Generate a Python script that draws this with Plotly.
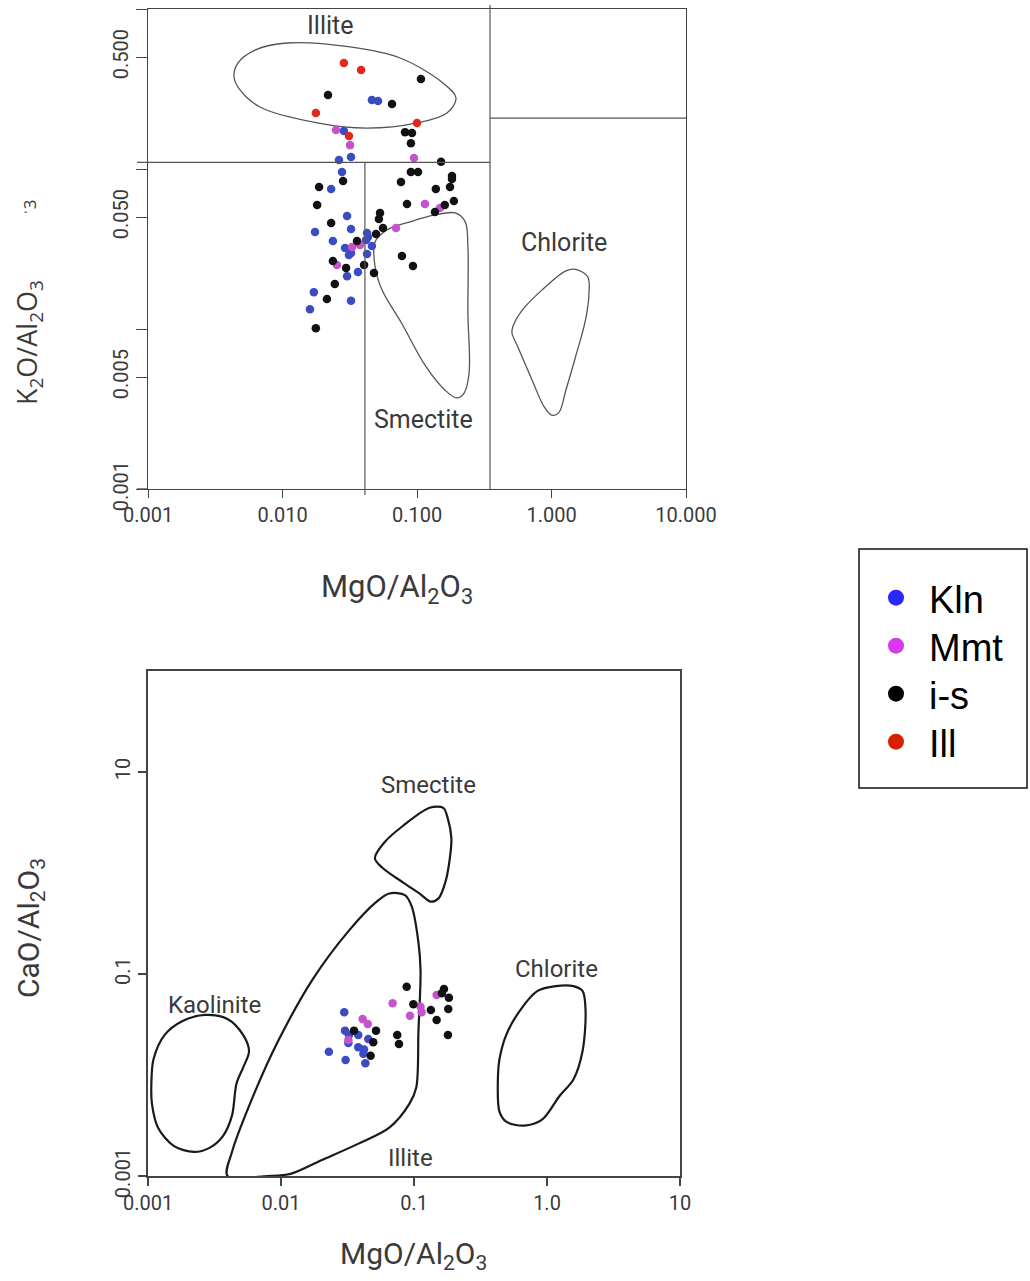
import numpy as np
import plotly.graph_objects as go

W, H = 1030, 1281

# ---------------- data: top panel (K2O/Al2O3 vs MgO/Al2O3) ----------------
top_kln_x = [0.0462, 0.0513, 0.0286, 0.0323, 0.0263, 0.0277, 0.0230, 0.0302, 0.01745, 0.0323, 0.0237, 0.0292,
             0.0312, 0.0323, 0.0425, 0.0432, 0.0418, 0.0462, 0.0425, 0.0364, 0.0302, 0.0171, 0.0160, 0.0323]
top_kln_y = [0.270, 0.266, 0.173, 0.119, 0.114, 0.0958, 0.0750, 0.0508, 0.0404, 0.0422, 0.0355, 0.0321,
             0.0290, 0.0299, 0.0398, 0.0376, 0.0360, 0.0330, 0.0294, 0.0227, 0.0214, 0.0170, 0.0133, 0.0150]
top_mmt_x = [0.0250, 0.0318, 0.0950, 0.1146, 0.148, 0.0698, 0.0329, 0.0377, 0.0254]
top_mmt_y = [0.175, 0.141, 0.117, 0.0604, 0.0571, 0.0428, 0.0326, 0.0335, 0.0251]
top_is_x = [0.107, 0.0218, 0.0652, 0.0815, 0.0918, 0.0901, 0.151, 0.0901, 0.1017, 0.182, 0.182, 0.0282,
            0.0187, 0.0760, 0.138, 0.176, 0.0181, 0.0843, 0.161, 0.188, 0.136, 0.0531, 0.0521, 0.0230,
            0.0559, 0.0496, 0.0358, 0.0773, 0.0933, 0.0237, 0.0297, 0.0404, 0.0479, 0.0245, 0.0214, 0.0177]
top_is_y = [0.365, 0.290, 0.255, 0.170, 0.168, 0.145, 0.111, 0.0958, 0.0958, 0.0905, 0.0866, 0.0841,
            0.0772, 0.0829, 0.0750, 0.0772, 0.0596, 0.0604, 0.0596, 0.0631, 0.0539, 0.0531, 0.0487, 0.0460,
            0.0428, 0.0393, 0.0355, 0.0286, 0.0248, 0.0266, 0.0241, 0.0251, 0.0224, 0.0191, 0.0154, 0.0101]
top_ill_x = [0.0286, 0.0384, 0.0177, 0.100, 0.0312]
top_ill_y = [0.460, 0.416, 0.224, 0.194, 0.161]

# field outlines (top panel)
top_illite_field_x = [0.00436, 0.00483, 0.00681, 0.0181, 0.0425, 0.100, 0.167, 0.195, 0.156, 0.0748,
                      0.0318, 0.0108, 0.00625, 0.00467]
top_illite_field_y = [0.376, 0.312, 0.244, 0.194, 0.180, 0.194, 0.224, 0.278, 0.345, 0.494,
                      0.579, 0.613, 0.554, 0.460]
top_smectite_field_x = [0.0488, 0.0598, 0.0901, 0.136, 0.192, 0.228, 0.239, 0.239, 0.244, 0.224, 0.198,
                        0.161, 0.117, 0.0767, 0.0550, 0.0488]
top_smectite_field_y = [0.0351, 0.0416, 0.0469, 0.0516, 0.0531, 0.0469, 0.0327, 0.0126, 0.00531, 0.00398,
                        0.00371, 0.00416, 0.00579, 0.0109, 0.0175, 0.0245]
top_chlorite_field_x = [0.515, 0.608, 0.848, 1.28, 1.51, 1.86, 1.90, 1.79, 1.51, 1.28, 1.13, 1.00, 0.880,
                        0.717, 0.561, 0.508]
top_chlorite_field_y = [0.0103, 0.01315, 0.0175, 0.0231, 0.0236, 0.0212, 0.0168, 0.0114, 0.00671, 0.00416,
                        0.00299, 0.0029, 0.00327, 0.0048, 0.00775, 0.00944]

# boundary lines (top panel)
top_mg_split = 0.041      # vertical boundary under illite field
top_mg_split2 = 0.349     # vertical boundary (chlorite)
top_k_split = 0.110       # horizontal boundary (illite)
top_k_split2 = 0.208      # horizontal boundary right box

top_labels = ["Illite", "Smectite", "Chlorite"]
top_label_x = [0.0225, 0.111, 1.24]
top_label_y = [0.794, 0.0027, 0.0345]

# ---------------- data: bottom panel (CaO/Al2O3 vs MgO/Al2O3) ----------------
bot_kln_x = [0.0299, 0.0303, 0.0324, 0.0381, 0.0453, 0.0381, 0.0421, 0.0416, 0.0229, 0.0306, 0.0431, 0.0321]
bot_kln_y = [0.0418, 0.0275, 0.0249, 0.0249, 0.0227, 0.0188, 0.0179, 0.0162, 0.0170, 0.0141, 0.0131, 0.0208]
bot_mmt_x = [0.0411, 0.0449, 0.0321, 0.0691, 0.0933, 0.112, 0.114, 0.148]
bot_mmt_y = [0.0358, 0.0320, 0.0222, 0.0513, 0.0386, 0.0474, 0.0418, 0.0619]
bot_is_x = [0.0354, 0.0518, 0.0494, 0.0472, 0.0748, 0.0771, 0.0881, 0.0989, 0.134, 0.148, 0.168, 0.162,
            0.183, 0.181, 0.180]
bot_is_y = [0.0275, 0.0275, 0.0211, 0.0155, 0.0249, 0.0203, 0.0749, 0.0501, 0.0441, 0.0351, 0.0710, 0.0644,
            0.0582, 0.0450, 0.0249]

bot_kaolinite_field_x = [0.00106, 0.00110, 0.00133, 0.00182, 0.00269, 0.00396, 0.00520, 0.00575, 0.00520,
                         0.00463, 0.00428, 0.00367, 0.00290, 0.00221, 0.00156, 0.00119, 0.00107]
bot_kaolinite_field_y = [0.00824, 0.0143, 0.0248, 0.0342, 0.0393, 0.0358, 0.0248, 0.0172, 0.0119,
                         0.00824, 0.00396, 0.00250, 0.00190, 0.00173, 0.00199, 0.00301, 0.00521]
bot_illite_field_x = [0.00396, 0.00428, 0.00585, 0.00933, 0.0174, 0.0324, 0.0516, 0.0652, 0.0855, 0.0961,
                      0.108, 0.112, 0.108, 0.104, 0.0925, 0.0652, 0.0379, 0.0203, 0.0118, 0.00798]
bot_illite_field_y = [0.001, 0.00173, 0.00521, 0.0206, 0.0895, 0.269, 0.512, 0.627, 0.604, 0.467,
                      0.205, 0.108, 0.0272, 0.00752, 0.00521, 0.00301, 0.00208, 0.00144, 0.00105, 0.001]
bot_smectite_field_x = [0.0508, 0.0603, 0.0824, 0.131, 0.166, 0.179, 0.191, 0.186, 0.172, 0.153, 0.133,
                        0.112, 0.0824, 0.0581]
bot_smectite_field_y = [1.40, 2.03, 2.92, 4.42, 4.42, 3.51, 2.22, 1.40, 0.809, 0.561, 0.521, 0.615, 0.809, 1.12]
bot_chlorite_field_x = [0.439, 0.428, 0.439, 0.493, 0.673, 0.918, 1.25, 1.58, 1.85, 1.95, 1.85, 1.58, 1.16,
                        0.849, 0.622, 0.493]
bot_chlorite_field_y = [0.0143, 0.00991, 0.00433, 0.00345, 0.00315, 0.00361, 0.00627, 0.00904, 0.0172,
                        0.0430, 0.0680, 0.0759, 0.0759, 0.0680, 0.0430, 0.0248]

bot_labels = ["Smectite", "Chlorite", "Kaolinite", "Illite"]
bot_label_x = [0.128, 1.17, 0.00319, 0.0948]
bot_label_y = [7.5, 0.112, 0.0493, 0.00151]

x_tickvals = [0.001, 0.01, 0.1, 1, 10]
top_x_ticktext = ["0.001", "0.010", "0.100", "1.000", "10.000"]
top_y_tickvals = [0.001, 0.005, 0.05, 0.5]
top_y_ticktext = ["0.001", "0.005", "0.050", "0.500"]
top_y_minor = [0.01, 0.1, 1]
bot_x_ticktext = ["0.001", "0.01", "0.1", "1.0", "10"]
bot_y_tickvals = [0.001, 0.1, 10]
bot_y_ticktext = ["0.001", "0.1", "10"]

groups = ["Kln", "Mmt", "i-s", "Ill"]
point_colors = {"Kln": "#3a4cc4", "Mmt": "#c453cc", "i-s": "#111111", "Ill": "#e2281c"}
legend_colors = {"Kln": "#2828ff", "Mmt": "#d838f0", "i-s": "#000000", "Ill": "#d82000"}

# ---------------- geometry ----------------
def px(x):
    return x / W

def py(y):
    return 1 - y / H

TXT = "#3a3a3a"
NUM_FONT = "Roboto, Lato, sans-serif"

fig = go.Figure()

def closed(xs, ys):
    return list(xs) + [xs[0]], list(ys) + [ys[0]]

for fx, fy in [(top_illite_field_x, top_illite_field_y),
               (top_smectite_field_x, top_smectite_field_y),
               (top_chlorite_field_x, top_chlorite_field_y)]:
    cx, cy = closed(fx, fy)
    fig.add_trace(go.Scatter(x=cx, y=cy, mode="lines",
                             line=dict(color="#555555", width=1.3, shape="spline", smoothing=1.0),
                             xaxis="x", yaxis="y", showlegend=False, hoverinfo="skip"))

for fx, fy in [(bot_kaolinite_field_x, bot_kaolinite_field_y),
               (bot_illite_field_x, bot_illite_field_y),
               (bot_smectite_field_x, bot_smectite_field_y),
               (bot_chlorite_field_x, bot_chlorite_field_y)]:
    cx, cy = closed(fx, fy)
    fig.add_trace(go.Scatter(x=cx, y=cy, mode="lines",
                             line=dict(color="#1a1a1a", width=2.2, shape="spline", smoothing=0.9),
                             xaxis="x2", yaxis="y2", showlegend=False, hoverinfo="skip", cliponaxis=False))

for g, xs, ys in [("Kln", top_kln_x, top_kln_y), ("Mmt", top_mmt_x, top_mmt_y),
                  ("i-s", top_is_x, top_is_y), ("Ill", top_ill_x, top_ill_y)]:
    fig.add_trace(go.Scatter(x=xs, y=ys, mode="markers", name=g,
                             marker=dict(color=point_colors[g], size=8.5, line=dict(width=0)),
                             xaxis="x", yaxis="y", showlegend=False))

for g, xs, ys in [("Kln", bot_kln_x, bot_kln_y), ("Mmt", bot_mmt_x, bot_mmt_y),
                  ("i-s", bot_is_x, bot_is_y)]:
    fig.add_trace(go.Scatter(x=xs, y=ys, mode="markers", name=g,
                             marker=dict(color=point_colors[g], size=8.5, line=dict(width=0)),
                             xaxis="x2", yaxis="y2", showlegend=False))

# legend entries, one legend each so that the spacing can follow the reference
legend_ids = ["legend", "legend2", "legend3", "legend4"]
legend_rows = [598, 646, 694, 742]
for g, lid in zip(groups, legend_ids):
    fig.add_trace(go.Scatter(x=[None], y=[None], mode="markers", name=g, legend=lid,
                             marker=dict(color=legend_colors[g], size=16),
                             xaxis="x", yaxis="y", showlegend=True))

axis_common = dict(type="log", showgrid=False, zeroline=False, showline=True, mirror=True, automargin=False,
                   ticks="outside", tickcolor="#444444", tickwidth=1.2, linecolor="#444444",
                   tickfont=dict(family=NUM_FONT, size=20, color=TXT))

top_dom_x = [px(148), px(686)]
top_dom_y = [py(489), py(9)]
bot_dom_x = [px(148), px(680)]
bot_dom_y = [py(1176), py(671)]

legend_style = dict(xanchor="left", yanchor="middle", bgcolor="rgba(0,0,0,0)",
                    font=dict(family="Liberation Sans, Arial, sans-serif", size=38, color="#000000"),
                    itemwidth=56, itemsizing="trace")
legend_layout = {}
for lid, row in zip(legend_ids, legend_rows):
    legend_layout[lid] = dict(legend_style, x=px(863), y=py(row))

fig.update_layout(
    width=W, height=H, margin=dict(l=0, r=0, t=0, b=0), template="none",
    paper_bgcolor="white", plot_bgcolor="white",
    xaxis=dict(axis_common, domain=top_dom_x, anchor="y", range=[-3, 1], linewidth=1.3,
               tickvals=x_tickvals, ticktext=top_x_ticktext, ticklen=8),
    yaxis=dict(axis_common, domain=top_dom_y, anchor="x", range=[-3, 0], linewidth=1.3,
               tickvals=top_y_tickvals, ticktext=top_y_ticktext, ticklen=11, tickangle=-90,
               minor=dict(tickvals=top_y_minor, ticks="outside", ticklen=11, tickwidth=1.2,
                          tickcolor="#444444", showgrid=False)),
    xaxis2=dict(axis_common, domain=bot_dom_x, anchor="y2", range=[-3, 1], linewidth=2,
                tickvals=x_tickvals, ticktext=bot_x_ticktext, ticklen=8, tickwidth=1.8),
    yaxis2=dict(axis_common, domain=bot_dom_y, anchor="x2", range=[-3, 2], linewidth=2,
                tickvals=bot_y_tickvals, ticktext=bot_y_ticktext, ticklen=8, tickwidth=1.8, tickangle=-90),
    showlegend=True,
    **legend_layout,
)

line_style = dict(color="#555555", width=1.2)
x_end_paper = top_dom_x[0] + (np.log10(top_mg_split2) + 3) / 4 * (top_dom_x[1] - top_dom_x[0])
fig.add_shape(type="line", xref="paper", yref="y", x0=px(137), x1=x_end_paper,
              y0=top_k_split, y1=top_k_split, line=line_style)
fig.add_shape(type="line", xref="x", yref="paper", x0=top_mg_split, x1=top_mg_split,
              y0=py(495), y1=py(162), line=line_style)
fig.add_shape(type="line", xref="x", yref="paper", x0=top_mg_split2, x1=top_mg_split2,
              y0=py(489), y1=py(5), line=line_style)
fig.add_shape(type="line", xref="x", yref="y", x0=top_mg_split2, x1=10,
              y0=top_k_split2, y1=top_k_split2, line=line_style)
fig.add_shape(type="line", xref="paper", yref="paper", x0=px(137), x1=px(148), y0=py(489), y1=py(489),
              line=dict(color="#444444", width=1.3))

# legend frame
fig.add_shape(type="rect", xref="paper", yref="paper", x0=px(859), x1=px(1027), y0=py(788), y1=py(549),
              line=dict(color="#111111", width=1.5), fillcolor="rgba(0,0,0,0)")

for t, lx, ly in zip(top_labels, top_label_x, top_label_y):
    fig.add_annotation(x=np.log10(lx), y=np.log10(ly), xref="x", yref="y", text=t, showarrow=False,
                       xanchor="center", yanchor="middle",
                       font=dict(family=NUM_FONT, size=25, color=TXT))
for t, lx, ly in zip(bot_labels, bot_label_x, bot_label_y):
    fig.add_annotation(x=np.log10(lx), y=np.log10(ly), xref="x2", yref="y2", text=t, showarrow=False,
                       xanchor="center", yanchor="middle",
                       font=dict(family=NUM_FONT, size=24, color=TXT))

title_kw = dict(xref="paper", yref="paper", showarrow=False, xanchor="center", yanchor="middle")
fig.add_annotation(x=px(28), y=py(343), textangle=-90,
                   text="K<sub>2</sub>O/Al<sub>2</sub>O<sub>3</sub>",
                   font=dict(family="Open Sans, sans-serif", size=27, color=TXT), **title_kw)
fig.add_annotation(x=px(30), y=py(208), textangle=-90,
                   text="ˈ3", font=dict(family="Open Sans, sans-serif", size=17, color=TXT), **title_kw)
fig.add_annotation(x=px(397), y=py(588),
                   text="MgO/Al<sub>2</sub>O<sub>3</sub>",
                   font=dict(family=NUM_FONT, size=31, color=TXT), **title_kw)
fig.add_annotation(x=px(413), y=py(1255),
                   text="MgO/Al<sub>2</sub>O<sub>3</sub>",
                   font=dict(family=NUM_FONT, size=30, color=TXT), **title_kw)
fig.add_annotation(x=px(30), y=py(928), textangle=-90,
                   text="CaO/Al<sub>2</sub>O<sub>3</sub>",
                   font=dict(family=NUM_FONT, size=30, color=TXT), **title_kw)

fig.write_html("out.html")
